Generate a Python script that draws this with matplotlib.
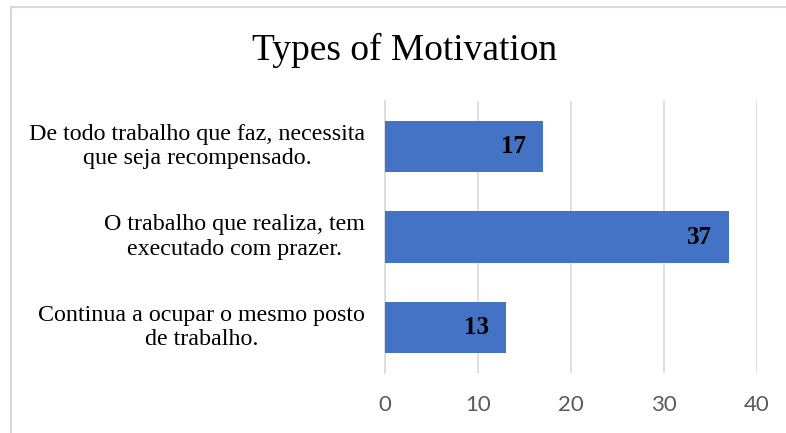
import matplotlib
matplotlib.use("Agg")
import matplotlib.pyplot as plt
from matplotlib.lines import Line2D

title = "Types of Motivation"
categories = [
    "Continua a ocupar o mesmo posto\nde trabalho.",
    "O trabalho que realiza, tem\nexecutado com prazer.",
    "De todo trabalho que faz, necessita\nque seja recompensado.",
]
values = [13, 37, 17]
xticks = [0, 10, 20, 30, 40]

fig = plt.figure(figsize=(7.86, 4.33), dpi=100)
ax = fig.add_axes([0.4898, 0.1386, 0.963 - 0.4898, 0.7667 - 0.1386])

ypos = list(range(len(categories)))
bars = ax.barh(ypos, values, height=0.565, color="#4472C4", zorder=3)

ax.set_xlim(0, 40)
ax.set_ylim(-0.5, 2.5)
ax.set_xticks(xticks)
ax.set_xticklabels([str(t) for t in xticks], family="Lato", fontsize=16, color="#595959")
ax.tick_params(axis="x", length=0, pad=16)
ax.set_yticks([])
ax.grid(axis="x", color="#d9d9d9", linewidth=1.2, zorder=0)
for s in ["top", "right", "bottom"]:
    ax.spines[s].set_visible(False)
ax.spines["left"].set_color("#d9d9d9")
ax.spines["left"].set_linewidth(1.2)

for y, cat in zip(ypos, categories):
    ax.annotate(cat, xy=(0, y), xycoords="data", xytext=(-20, 0), textcoords="offset pixels",
                ha="right", va="center", multialignment="center",
                family="Liberation Serif", fontsize=17.3, linespacing=1.2, color="black")

for y, v in zip(ypos, values):
    ax.annotate(str(v), xy=(v, y), xycoords="data", xytext=(-17, 0), textcoords="offset pixels",
                ha="right", va="center", family="Liberation Serif", fontweight="bold",
                fontsize=18, color="black", zorder=4)

fig.text(405 / 786, 1 - 50 / 433, title, ha="center", va="center",
         family="Liberation Serif", fontsize=27, color="black")

# chart area border
fig.add_artist(Line2D([11 / 786, 1.0], [1 - 7 / 433, 1 - 7 / 433], transform=fig.transFigure,
                      color="#d9d9d9", linewidth=1.5))
fig.add_artist(Line2D([11 / 786, 11 / 786], [0, 1 - 7 / 433], transform=fig.transFigure,
                      color="#d9d9d9", linewidth=1.5))

fig.savefig("out.png", dpi=100)
